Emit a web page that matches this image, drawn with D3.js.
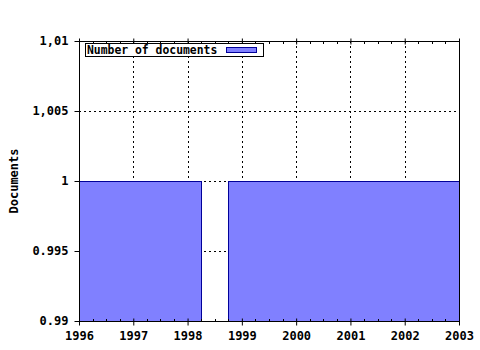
<!DOCTYPE html>
<html><head><meta charset="utf-8">
<script src="https://cdn.jsdelivr.net/npm/d3@7"></script>
<style>body{margin:0;background:#fff}text{font-family:"DejaVu Sans Mono",monospace;font-weight:bold;font-size:12px}</style>
</head><body>
<svg id="c" width="480" height="350"></svg>
<script>
const barStarts = [1996, 1998.75];
const barEnds = [1998.25, 2003];
const barValues = [1, 1];
const xTicks = [1996, 1997, 1998, 1999, 2000, 2001, 2002, 2003];
const yTicks = [0.99, 0.995, 1, 1.005, 1.01];
const yTickLabels = ["0.99", "0.995", "1", "1,005", "1,01"];
const seriesName = "Number of documents";
const yTitle = "Documents";

const L = 79, R = 459, T = 41, B = 321;
const svg = d3.select("#c");
const x = d3.scaleLinear().domain([1996, 2003]).range([L, R]);
const y = d3.scaleLinear().domain([0.99, 1.01]).range([B, T]);

// grid
const g = svg.append("g").attr("stroke", "#000").attr("stroke-dasharray", "2,3").attr("shape-rendering", "crispEdges");
g.selectAll(".vx").data(xTicks.slice(1, -1)).enter().append("line")
  .attr("x1", d => Math.round(x(d)) + 0.5).attr("x2", d => Math.round(x(d)) + 0.5).attr("y1", T).attr("y2", B);
g.selectAll(".hy").data(yTicks.slice(1, -1)).enter().append("line")
  .attr("y1", d => Math.round(y(d)) + 0.5).attr("y2", d => Math.round(y(d)) + 0.5).attr("x1", L).attr("x2", R);

// bars
const bars = barStarts.map((s, i) => ({s, e: barEnds[i], v: barValues[i]}));
svg.selectAll(".bar").data(bars).enter().append("rect")
  .attr("x", d => Math.round(x(d.s)) + 0.5).attr("width", d => Math.round(x(d.e)) - Math.round(x(d.s)))
  .attr("y", d => Math.round(y(d.v)) + 0.5).attr("height", d => Math.round(y(0.99)) - Math.round(y(d.v)))
  .attr("fill", "#8080ff").attr("stroke", "#000099").attr("stroke-width", 1).attr("shape-rendering", "crispEdges");

// frame
svg.append("rect").attr("x", L + 0.5).attr("y", T + 0.5).attr("width", R - L).attr("height", B - T)
  .attr("fill", "none").attr("stroke", "#000").attr("shape-rendering", "crispEdges");

// axes
const minor = d3.range(1996, 2003.001, 0.25).filter(v => Math.abs(v - Math.round(v)) > 1e-6);
const xb = d3.axisBottom(x).tickValues(xTicks).tickFormat(d3.format("d")).tickSize(4).tickPadding(6);
const ax = svg.append("g").attr("transform", `translate(0,${B + 0.5})`).call(xb);
ax.select(".domain").remove();
ax.selectAll("text").attr("font-size", null).attr("font-family", null).attr("fill", "#000");
ax.selectAll("line").attr("y1", -3);
svg.append("g").selectAll("line").data(minor).enter().append("line")
  .attr("x1", d => Math.round(x(d)) + 0.5).attr("x2", d => Math.round(x(d)) + 0.5)
  .attr("y1", B - 2).attr("y2", B + 1).attr("stroke", "#000");

const xt = d3.axisTop(x).tickValues(xTicks).tickFormat("").tickSize(3);
const axt = svg.append("g").attr("transform", `translate(0,${T + 0.5})`).call(xt);
axt.select(".domain").remove();
axt.selectAll("line").attr("y1", 3);
svg.append("g").selectAll("line").data(minor).enter().append("line")
  .attr("x1", d => Math.round(x(d)) + 0.5).attr("x2", d => Math.round(x(d)) + 0.5)
  .attr("y1", T).attr("y2", T + 3).attr("stroke", "#000");

const yl = d3.axisLeft(y).tickValues(yTicks).tickFormat((d, i) => yTickLabels[i]).tickSize(5).tickPadding(6);
const ay = svg.append("g").attr("transform", `translate(${L + 0.5},0)`).call(yl);
ay.select(".domain").remove();
ay.selectAll("text").attr("font-size", null).attr("font-family", null).attr("fill", "#000");
ay.selectAll(".tick").attr("transform", d => `translate(0,${Math.round(y(d)) + 0.5})`);

svg.append("text").attr("transform", `translate(18,${(T + B) / 2}) rotate(-90)`)
  .attr("text-anchor", "middle").text(yTitle);

// legend
svg.append("rect").attr("x", 85.5).attr("y", 43.5).attr("width", 178).attr("height", 13)
  .attr("fill", "#fff").attr("stroke", "#000");
svg.append("text").attr("x", 87).attr("y", 54).style("font-size", "11.4px").text(seriesName);
svg.append("rect").attr("x", 226.5).attr("y", 47.5).attr("width", 30).attr("height", 5)
  .attr("fill", "#8080ff").attr("stroke", "#000099");
</script>
</body></html>
